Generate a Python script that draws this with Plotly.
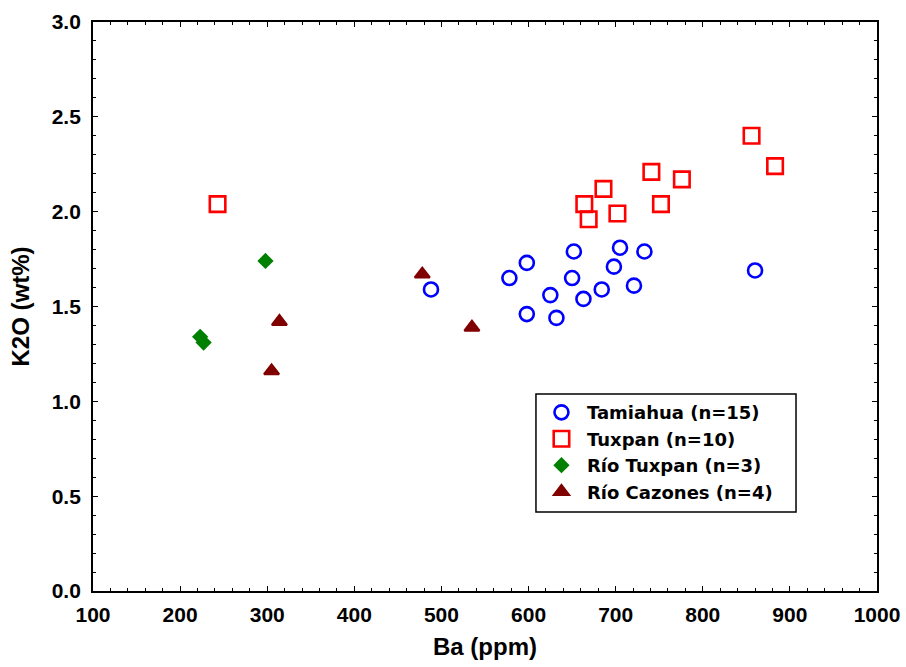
import plotly.graph_objects as go

# Tamiahua (n=15)
tam_ba = [578, 598, 598, 625, 632, 652, 650, 663, 684, 698, 705, 733, 721, 860, 488]
tam_k2o = [1.65, 1.73, 1.46, 1.56, 1.44, 1.79, 1.65, 1.54, 1.59, 1.71, 1.81, 1.79, 1.61, 1.69, 1.59]

# Tuxpan (n=10)
tux_ba = [856, 883, 741, 776, 686, 664, 752, 702, 669, 243]
tux_k2o = [2.40, 2.24, 2.21, 2.17, 2.12, 2.04, 2.04, 1.99, 1.96, 2.04]

# Río Tuxpan (n=3)
rtux_ba = [298, 223, 227]
rtux_k2o = [1.74, 1.34, 1.31]

# Río Cazones (n=4)
rcaz_ba = [314, 305, 478, 535]
rcaz_k2o = [1.42, 1.16, 1.67, 1.39]

x_ticks = [100, 200, 300, 400, 500, 600, 700, 800, 900, 1000]
y_ticks = [0.0, 0.5, 1.0, 1.5, 2.0, 2.5, 3.0]

FONT = "Liberation Sans, Arial, sans-serif"
LEG_FONT = "DejaVu Sans, Liberation Sans, sans-serif"

fig = go.Figure()
fig.add_trace(go.Scatter(x=tam_ba, y=tam_k2o, mode="markers", name="Tamiahua (n=15)",
                         marker=dict(symbol="circle-open", size=14, color="#0000FF",
                                     line=dict(width=2.6, color="#0000FF"))))
fig.add_trace(go.Scatter(x=tux_ba, y=tux_k2o, mode="markers", name="Tuxpan (n=10)",
                         marker=dict(symbol="square-open", size=15.5, color="#FF0000",
                                     line=dict(width=2.6, color="#FF0000"))))
fig.add_trace(go.Scatter(x=rtux_ba, y=rtux_k2o, mode="markers", name="Río Tuxpan (n=3)",
                         marker=dict(symbol="diamond", size=12.5, color="#008000",
                                     line=dict(width=0))))
fig.add_trace(go.Scatter(x=rcaz_ba, y=rcaz_k2o, mode="markers", name="Río Cazones (n=4)",
                         marker=dict(symbol="triangle-up", size=13, color="#800000",
                                     line=dict(width=2.2, color="#800000"))))

axis_common = dict(
    showgrid=False, zeroline=False, showline=True, linecolor="black", linewidth=1.8,
    mirror="ticks", ticks="inside", ticklen=5, tickwidth=1.2, tickcolor="black",
    tickfont=dict(family=FONT, size=21, color="black", weight="bold"),
)

fig.update_xaxes(range=[100, 1000], tickvals=x_ticks, ticktext=[str(v) for v in x_ticks],
                 minor=dict(dtick=20, ticks="inside", ticklen=3, tickwidth=1, tickcolor="black"),
                 title=dict(text="<b>Ba (ppm)</b>", font=dict(family=FONT, size=24, color="black"),
                            standoff=13),
                 ticklabelstandoff=4,
                 **axis_common)
fig.update_yaxes(range=[0, 3.0], tickvals=y_ticks, ticktext=[f"{v:.1f}" for v in y_ticks],
                 minor=dict(dtick=0.1, ticks="inside", ticklen=3, tickwidth=1, tickcolor="black"),
                 title=dict(text="<b>K2O (wt%)</b>", font=dict(family=FONT, size=24, color="black"),
                            standoff=15),
                 ticklabelstandoff=6,
                 **axis_common)

# legend frame
fig.add_shape(type="rect", xref="paper", yref="paper", x0=0.565, x1=0.8967, y0=0.1388, y1=0.3462,
              line=dict(color="black", width=1.5), fillcolor="white", layer="below")

fig.update_layout(
    width=906, height=667,
    margin=dict(l=93, r=29, t=22, b=76, autoexpand=False),
    paper_bgcolor="white", plot_bgcolor="white",
    showlegend=True,
    legend=dict(x=0.565, y=0.346, xanchor="left", yanchor="top",
                bgcolor="rgba(0,0,0,0)", borderwidth=0,
                itemwidth=41,
                font=dict(family=LEG_FONT, size=18, color="black", weight="bold")),
)

fig.write_html("out.html")
